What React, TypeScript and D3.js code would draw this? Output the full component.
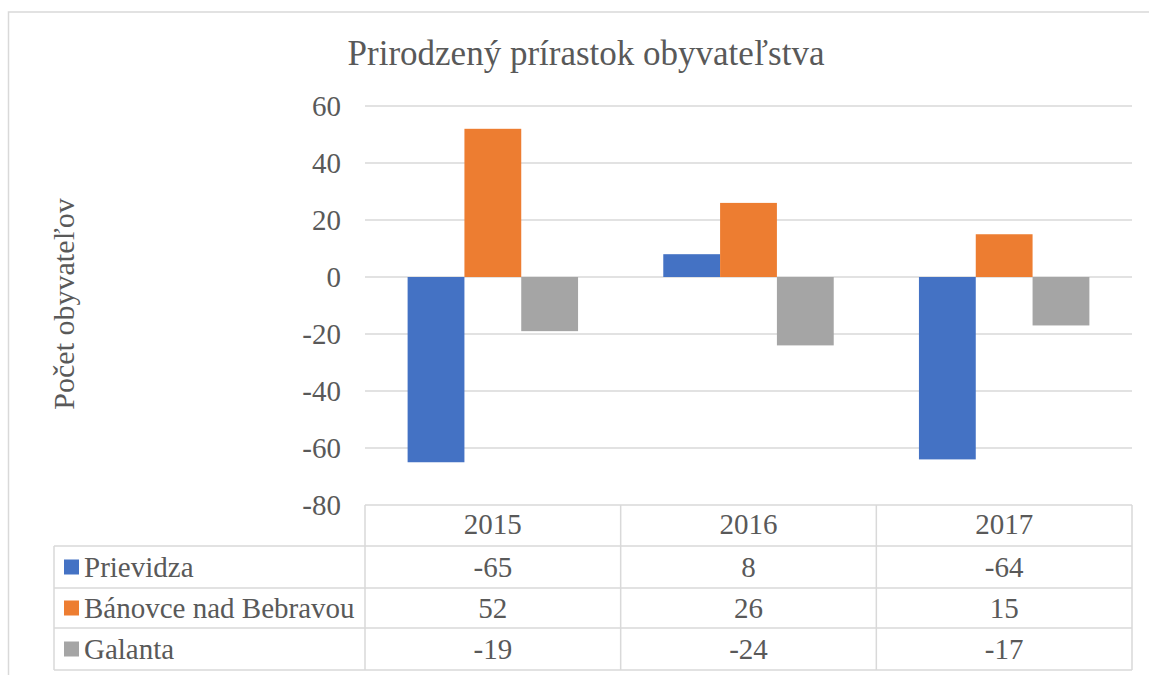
import React from "react";
import * as d3 from "d3";

const categories = ["2015", "2016", "2017"];
const seriesNames = ["Prievidza", "Bánovce nad Bebravou", "Galanta"];
const prievidza = [-65, 8, -64];
const banovce = [52, 26, 15];
const galanta = [-19, -24, -17];
const seriesValues = [prievidza, banovce, galanta];
const colors = ["#4472C4", "#ED7D31", "#A5A5A5"];
const yTicks = [60, 40, 20, 0, -20, -40, -60, -80];

const W = 1149;
const H = 675;
const font = "'Liberation Serif', 'Times New Roman', serif";
const txt = "#595959";
const grid = "#d9d9d9";
const fs = 29;

export default function App() {
  const plotLeft = 365;
  const plotRight = 1132;
  const y = d3.scaleLinear().domain([-80, 60]).range([505, 106]);
  const x0 = d3.scaleBand().domain(categories).range([plotLeft, plotRight]).paddingInner(0).paddingOuter(0);
  const bw = x0.bandwidth() / 4.5;
  const x1 = d3
    .scaleBand()
    .domain(seriesNames)
    .range([0.75 * bw, 3.75 * bw]);

  const tableLeft = 54;
  const rowTops = [505, 546, 588, 628, 670];

  return (
    <div style={{ position: "absolute", left: 0, top: 0 }}>
      <svg width={W} height={H} style={{ display: "block", background: "#fff" }}>
        <rect x={8.5} y={12} width={W + 10} height={H + 10} fill="none" stroke={grid} strokeWidth={1.5} />
        <text x={586} y={65} textAnchor="middle" fontFamily={font} fontSize={35} fill={txt}>
          Prirodzený prírastok obyvateľstva
        </text>
        <text
          transform={`translate(74,304) rotate(-90)`}
          textAnchor="middle"
          fontFamily={font}
          fontSize={30}
          fill={txt}
        >
          Počet obyvateľov
        </text>
        {yTicks.map((t) => (
          <g key={t}>
            {t !== -80 && (
              <line x1={plotLeft} x2={plotRight} y1={y(t)} y2={y(t)} stroke={grid} strokeWidth={1.5} />
            )}
            <text x={341} y={y(t) + 10} textAnchor="end" fontFamily={font} fontSize={fs} fill={txt}>
              {t}
            </text>
          </g>
        ))}
        {categories.map((c, ci) =>
          seriesNames.map((s, si) => {
            const v = seriesValues[si][ci];
            const bx = (x0(c) as number) + (x1(s) as number);
            return (
              <rect
                key={c + s}
                x={bx}
                width={x1.bandwidth()}
                y={Math.min(y(v), y(0))}
                height={Math.abs(y(v) - y(0))}
                fill={colors[si]}
              />
            );
          })
        )}
        <g stroke={grid} strokeWidth={1.5} fill="none">
          <line x1={plotLeft} x2={plotRight} y1={rowTops[0]} y2={rowTops[0]} />
          {rowTops.slice(1).map((r) => (
            <line key={r} x1={tableLeft} x2={plotRight} y1={r} y2={r} />
          ))}
          <line x1={tableLeft} x2={tableLeft} y1={rowTops[1]} y2={rowTops[4]} />
          {categories.map((c) => (
            <line key={c} x1={x0(c)} x2={x0(c)} y1={rowTops[0]} y2={rowTops[4]} />
          ))}
          <line x1={plotRight} x2={plotRight} y1={rowTops[0]} y2={rowTops[4]} />
        </g>
        {categories.map((c) => (
          <text
            key={c}
            x={(x0(c) as number) + x0.bandwidth() / 2}
            y={(rowTops[0] + rowTops[1]) / 2 + 8}
            textAnchor="middle"
            fontFamily={font}
            fontSize={fs}
            fill={txt}
          >
            {c}
          </text>
        ))}
        {seriesNames.map((s, si) => {
          const cy = (rowTops[si + 1] + rowTops[si + 2]) / 2;
          return (
            <g key={s}>
              <rect x={64} y={cy - 7.5} width={15} height={15} fill={colors[si]} />
              <text x={84} y={cy + 10} fontFamily={font} fontSize={fs} fill={txt}>
                {s}
              </text>
              {categories.map((c, ci) => (
                <text
                  key={c}
                  x={(x0(c) as number) + x0.bandwidth() / 2}
                  y={cy + 10}
                  textAnchor="middle"
                  fontFamily={font}
                  fontSize={fs}
                  fill={txt}
                >
                  {seriesValues[si][ci]}
                </text>
              ))}
            </g>
          );
        })}
      </svg>
    </div>
  );
}
